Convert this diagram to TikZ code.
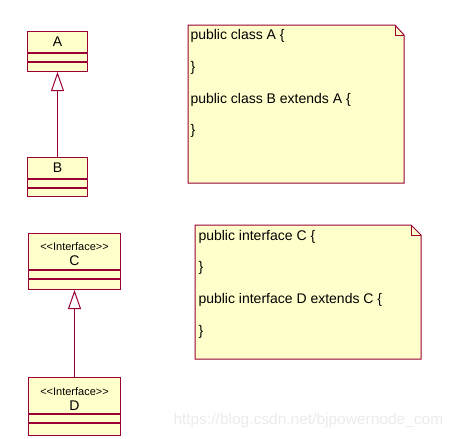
\documentclass[tikz,border=0pt]{standalone}
\usepackage{fontspec}
\setmainfont{Liberation Sans}
\usetikzlibrary{arrows.meta, positioning, calc}

\definecolor{umlred}{RGB}{153,0,51}
\definecolor{umlfill}{RGB}{255,255,204}

\begin{document}
\begin{tikzpicture}[x=1pt, y=-1pt, line width=1pt,
    classbox/.style={draw=umlred, fill=umlfill, inner sep=0pt, minimum width=60pt, minimum height=21pt, font=\fontsize{14}{16}\selectfont},
    ifacebox/.style={classbox, minimum width=92pt, minimum height=36pt, align=center, font=\fontsize{14}{15}\selectfont},
    compbox/.style={draw=umlred, fill=umlfill, inner sep=0pt, minimum height=8pt},
    notebox/.style={inner sep=0pt, anchor=north west},
    noteline/.style={anchor=west, inner sep=0pt, font=\fontsize{14}{16}\selectfont},
    inherit/.style={draw=umlred, -{Triangle[open, length=19pt, width=13pt]}}]
    \useasboundingbox (0,0) rectangle (459,439);

    % class A and class B
    \node[classbox, anchor=north west] (A) at (27,31) {A};
    \node[compbox, minimum width=60pt, below=0pt of A] (A-attr) {};
    \node[compbox, minimum width=60pt, minimum height=9pt, below=0pt of A-attr] (A-ops) {};
    \node[classbox, anchor=north west] (B) at (27,157) {B};
    \node[compbox, minimum width=60pt, below=0pt of B] (B-attr) {};
    \node[compbox, minimum width=60pt, minimum height=8pt, below=0pt of B-attr] (B-ops) {};
    \draw[inherit] (B.north) -- (A-ops.south);

    % interface C and interface D
    \node[ifacebox, anchor=north west] (C) at (28,233) {\rule{0pt}{14pt}{\fontsize{11}{12}\selectfont <\kern0pt<Interface>\kern0pt>}\\C};
    \node[compbox, minimum width=92pt, below=0pt of C] (C-attr) {};
    \node[compbox, minimum width=92pt, minimum height=10pt, below=0pt of C-attr] (C-ops) {};
    \node[ifacebox, anchor=north west] (D) at (28,377) {\rule{0pt}{14pt}{\fontsize{11}{12}\selectfont <\kern0pt<Interface>\kern0pt>}\\D};
    \node[compbox, minimum width=92pt, below=0pt of D] (D-attr) {};
    \node[compbox, minimum width=92pt, minimum height=12pt, below=0pt of D-attr] (D-ops) {};
    \draw[inherit] (D.north) -- (C-ops.south);

    % code notes
    \node[notebox, minimum width=215pt, minimum height=157pt] (noteAB) at (188,25) {};
    \draw[draw=umlred, fill=umlfill] (noteAB.north west) -- ($(noteAB.north east)+(-9,0)$) -- ($(noteAB.north east)+(0,10)$) -- (noteAB.south east) -- (noteAB.south west) -- cycle;
    \draw[umlred] ($(noteAB.north east)+(-9,0)$) -- ++(0,10) -- ($(noteAB.north east)+(0,10)$);
    \node[noteline] (ab1) at (190,36) {public class A \{};
    \node[noteline] (ab2) at (190,68) {\}};
    \node[noteline] (ab3) at (190,100) {public class B extends A \{};
    \node[noteline] (ab4) at (190,131) {\}};

    \node[notebox, minimum width=225pt, minimum height=133pt] (noteCD) at (195,225) {};
    \draw[draw=umlred, fill=umlfill] (noteCD.north west) -- ($(noteCD.north east)+(-10,0)$) -- ($(noteCD.north east)+(0,10)$) -- (noteCD.south east) -- (noteCD.south west) -- cycle;
    \draw[umlred] ($(noteCD.north east)+(-10,0)$) -- ++(0,10) -- ($(noteCD.north east)+(0,10)$);
    \node[noteline] (cd1) at (198,237) {public interface C \{};
    \node[noteline] (cd2) at (198,268) {\}};
    \node[noteline] (cd3) at (198,300) {public interface D extends C \{};
    \node[noteline] (cd4) at (198,332) {\}};

    \node[anchor=west, inner sep=0pt, text=black!8, font=\fontsize{15.5}{17}\selectfont] (mark) at (173,420) {https://blog.csdn.net/bjpowernode\_com};
\end{tikzpicture}
\end{document}
